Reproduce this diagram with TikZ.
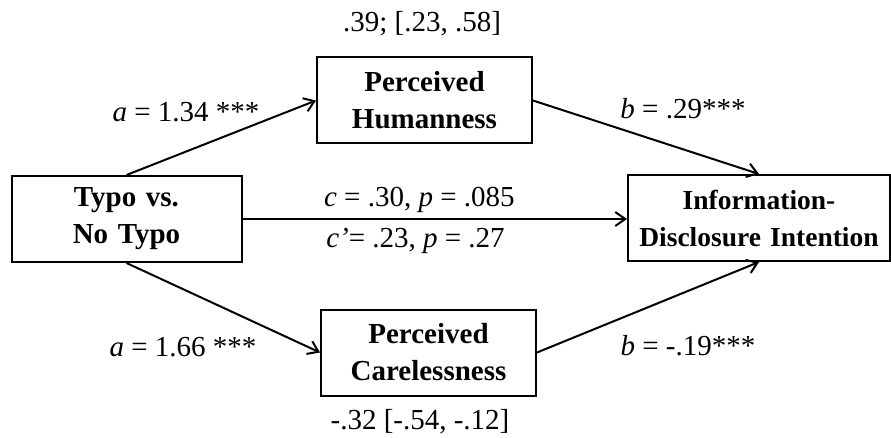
\documentclass[tikz,border=0pt]{standalone}
\usepackage{fontspec}
\setmainfont{Liberation Serif}
\usetikzlibrary{positioning,arrows.meta}
\tikzset{
  varbox/.style={rectangle,draw=black,line width=2pt,text centered,
    minimum height=86pt,minimum width=#1,text width=#1,inner sep=0pt,
    font=\fontsize{29}{37}\selectfont\bfseries},
  varbox/.default=215pt,
  arrow/.style={-{Straight Barb[length=10pt,width=14pt,line width=2pt]},draw=black,line width=2pt},
  note/.style={font=\fontsize{29}{34}\selectfont,inner sep=2pt}
}

\begin{document}
\begin{tikzpicture}[x=1pt,y=-1pt]
  \useasboundingbox (0,0) rectangle (891,438);
  \node[varbox=230pt] (typo) at (126.5,219) {Typo vs.\\No Typo};
  \node[varbox=262pt,font=\fontsize{27.5}{37}\selectfont\bfseries] (info) at (759,218)
    {Information-\\Disclosure Intention};
  \node[varbox] (human) at (424.5,100.5) {Perceived\\Humanness};
  \node[varbox] (care) at (428.5,352.5) {Perceived\\Carelessness};
  % indirect effects
  \node[note] (indhum) at (422,24) {.39; [.23, .58]};
  \node[note] (indcare) at (420,422) {-.32 [-.54, -.12]};
  % paths
  \draw[arrow] (typo.north) -- (human.west);
  \draw[arrow] (human.east) -- (info.north);
  \draw[arrow] (typo.south) -- (care.west);
  \draw[arrow] (care.east) -- (info.south);
  \draw[arrow] (typo.east) -- (typo.east -| info.west)
    node[note,above=3pt,pos=0.46] (ctot) {\textit{c} = .30, \textit{p} = .085}
    node[note,below=6pt,pos=0.45] (cdir) {\textit{c’}= .23, \textit{p} = .27};
  \node[note] (ahum) at (186,112) {\textit{a} = 1.34 ***};
  \node[note] (bhum) at (683,109) {\textit{b} = .29***};
  \node[note] (acare) at (183,347) {\textit{a} = 1.66 ***};
  \node[note] (bcare) at (688,346) {\textit{b} = -.19***};
\end{tikzpicture}
\end{document}
